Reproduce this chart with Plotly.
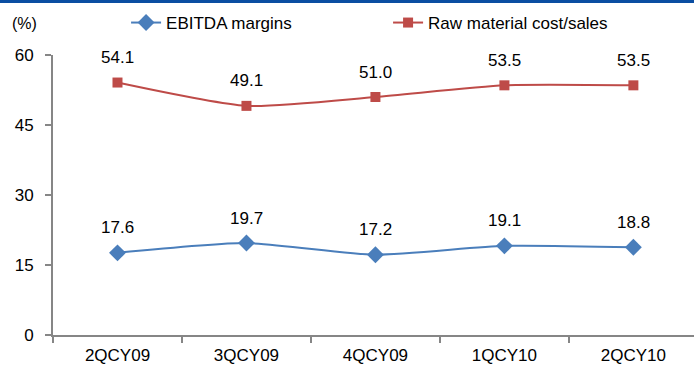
import plotly.graph_objects as go

categories = ["2QCY09", "3QCY09", "4QCY09", "1QCY10", "2QCY10"]
ebitda_margins = [17.6, 19.7, 17.2, 19.1, 18.8]
raw_material = [54.1, 49.1, 51.0, 53.5, 53.5]
y_ticks = [0, 15, 30, 45, 60]

BLUE = "#4a7ebb"
RED = "#be4b48"
FONT = "Liberation Sans, Arial, sans-serif"

fig = go.Figure()
fig.add_trace(go.Scatter(
    x=categories, y=ebitda_margins, name="EBITDA margins",
    mode="lines+markers",
    line=dict(color=BLUE, width=2, shape="spline", smoothing=0.6),
    marker=dict(symbol="diamond", size=13, color=BLUE),
))
fig.add_trace(go.Scatter(
    x=categories, y=raw_material, name="Raw material cost/sales",
    mode="lines+markers",
    line=dict(color=RED, width=2, shape="spline", smoothing=0.6),
    marker=dict(symbol="square", size=10, color=RED),
))

for series in (ebitda_margins, raw_material):
    for c, v in zip(categories, series):
        fig.add_annotation(x=c, y=v, text=f"{v:.1f}", showarrow=False,
                           yshift=25, font=dict(size=17, color="#000", family=FONT))

fig.add_annotation(xref="paper", yref="paper", x=-43/641, y=1 + 31/280,
                   xanchor="left", yanchor="middle", text="(%)", showarrow=False,
                   font=dict(size=16, color="#000", family=FONT))

fig.add_shape(type="rect", xref="paper", yref="paper",
              x0=-0.2, x1=1.2, y0=1 + 52/280, y1=1 + 56/280,
              fillcolor="#0b4ea2", line=dict(width=0), layer="above")

fig.update_layout(
    width=694, height=377,
    margin=dict(l=53, r=0, t=55, b=42),
    paper_bgcolor="white", plot_bgcolor="white",
    font=dict(family=FONT, size=17, color="#000"),
    showlegend=True,
    legend=dict(orientation="h", x=0.114, y=1 + 32/280, xanchor="left", yanchor="middle",
                font=dict(size=17, color="#000", family=FONT),
                entrywidth=217, entrywidthmode="pixels", bgcolor="rgba(0,0,0,0)"),
    xaxis=dict(type="category", range=[-0.5, 4.47], showgrid=False, zeroline=False,
               showline=True, linecolor="#868686", linewidth=2,
               ticks="outside", tickson="boundaries", ticklen=6, tickcolor="#868686", tickwidth=2,
               ticklabelstandoff=4,
               tickfont=dict(size=17, color="#000", family=FONT)),
    yaxis=dict(range=[0, 60], tickvals=y_ticks, showgrid=False, zeroline=False,
               showline=True, linecolor="#868686", linewidth=2,
               ticks="outside", ticklen=6, tickcolor="#868686", tickwidth=2,
               ticklabelstandoff=8,
               tickfont=dict(size=17, color="#000", family=FONT)),
)

fig.write_html("out.html", config={"displayModeBar": False},
               post_script="document.body.style.margin='0';document.body.style.overflow='hidden';document.documentElement.style.overflow='hidden';")
